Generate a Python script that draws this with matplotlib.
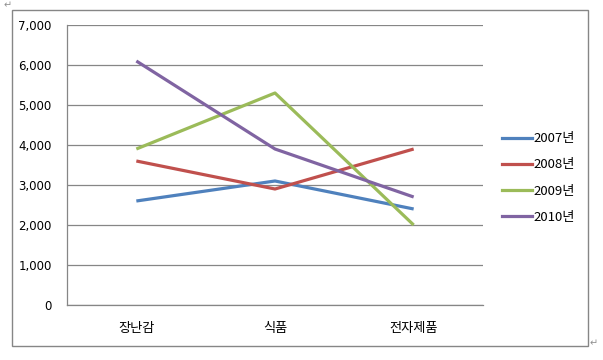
import matplotlib
matplotlib.use("Agg")
import matplotlib.pyplot as plt
from matplotlib.patches import Rectangle
from matplotlib.lines import Line2D

plt.rcParams['font.family'] = ['Noto Sans CJK KR', 'DejaVu Sans']

categories = ['장난감', '식품', '전자제품']
series_names = ['2007년', '2008년', '2009년', '2010년']
v2007 = [2600, 3100, 2400]
v2008 = [3600, 2900, 3900]
v2009 = [3900, 5300, 2000]
v2010 = [6100, 3900, 2700]
yticks = [0, 1000, 2000, 3000, 4000, 5000, 6000, 7000]
ytick_labels = ['0', '1,000', '2,000', '3,000', '4,000', '5,000', '6,000', '7,000']
colors = ['#4F81BD', '#C0504D', '#9BBB59', '#8064A2']

W, H = 603, 360
fig = plt.figure(figsize=(W / 100, H / 100), dpi=100)

# outer frame
fig.patches.append(Rectangle((12 / W, 1 - 346 / H), (588 - 12) / W, (346 - 10) / H,
                             transform=fig.transFigure, fill=False,
                             edgecolor='#868686', linewidth=1.0))
fig.text(4 / W, 1 - 5 / H, '↵', fontsize=7, color='#909090', family='DejaVu Sans', va='center')
fig.text(590 / W, 1 - 343 / H, '↵', fontsize=7, color='#909090', family='DejaVu Sans', va='center')

ax = fig.add_axes([67 / W, 1 - 305 / H, (483 - 67) / W, (305 - 25) / H])
x = list(range(len(categories)))
for vals, name, c in zip([v2007, v2008, v2009, v2010], series_names, colors):
    ax.plot(x, vals, color=c, linewidth=2.3, label=name, solid_capstyle='butt')

ax.set_xlim(-0.5, len(categories) - 0.5)
ax.set_ylim(0, 7000)
ax.set_yticks(yticks)
ax.set_yticklabels(ytick_labels, fontsize=8.5, family=['DejaVu Sans'])
ax.set_xticks(x)
ax.set_xticklabels(categories, fontsize=9.5)
ax.tick_params(axis='both', length=0, colors='#000000')
ax.tick_params(axis='y', pad=11)
ax.tick_params(axis='x', pad=12)
ax.grid(axis='y', color='#868686', linewidth=0.9)
ax.set_axisbelow(True)
for s in ['top', 'right']:
    ax.spines[s].set_visible(False)
for s in ['left', 'bottom']:
    ax.spines[s].set_color('#868686')
    ax.spines[s].set_linewidth(0.9)

handles = [Line2D([], [], color=c, linewidth=2.3) for c in colors]
fig.legend(handles, series_names, loc='center left',
           bbox_to_anchor=(490 / W, 1 - 178 / H), frameon=False,
           fontsize=9.5, handlelength=2.3, handletextpad=0.1, labelspacing=1.0)

fig.savefig('out.png', dpi=100)
